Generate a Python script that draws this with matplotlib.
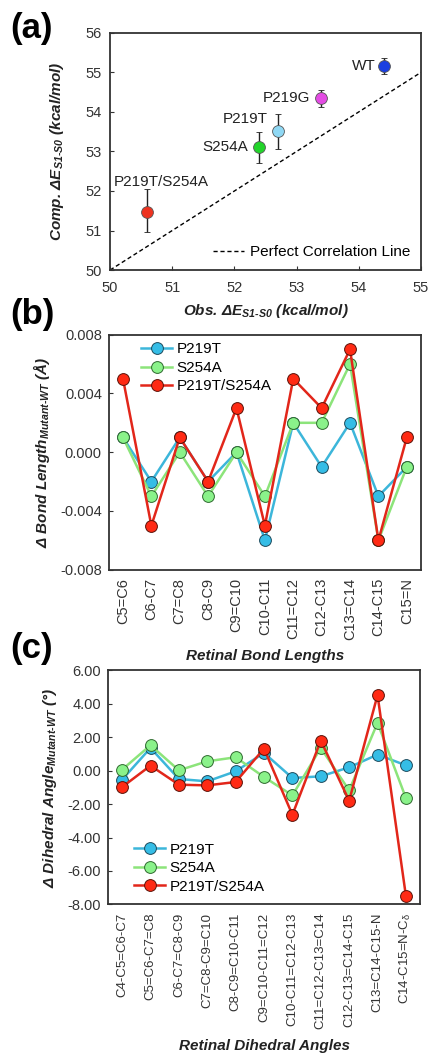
import matplotlib
matplotlib.use('Agg')
import matplotlib.pyplot as plt
import numpy as np

plt.rcParams['font.family'] = ['Liberation Sans', 'DejaVu Sans']
plt.rcParams['mathtext.fontset'] = 'custom'
plt.rcParams['mathtext.rm'] = 'Liberation Sans:italic:bold'
plt.rcParams['mathtext.it'] = 'Liberation Sans:italic:bold'
plt.rcParams['mathtext.bf'] = 'Liberation Sans:italic:bold'
plt.rcParams['mathtext.sf'] = 'Liberation Sans'

# ---- panel (a) data ----
mutants = ['WT', 'P219G', 'P219T', 'S254A', 'P219T/S254A']
obs_e = [54.4, 53.4, 52.7, 52.4, 50.6]
comp_e = [55.17, 54.34, 53.52, 53.11, 51.47]
err_lo = [0.20, 0.22, 0.45, 0.39, 0.52]
err_hi = [0.20, 0.22, 0.43, 0.38, 0.59]
mut_colors = ['#1a3fe0', '#e44be4', '#8fd8f4', '#22d42a', '#ee3320']
label_off = [(-8, 0), (-11, 0), (-10, 12), (-11, 0), (14, 30)]
label_ha = ['right', 'right', 'right', 'right', 'center']

# ---- panel (b) data ----
bonds = ['C5=C6', 'C6-C7', 'C7=C8', 'C8-C9', 'C9=C10', 'C10-C11',
         'C11=C12', 'C12-C13', 'C13=C14', 'C14-C15', 'C15=N']
bond_p219t = [0.001, -0.002, 0.001, -0.002, 0.000, -0.006, 0.002, -0.001, 0.002, -0.003, -0.001]
bond_s254a = [0.001, -0.003, 0.000, -0.003, 0.000, -0.003, 0.002, 0.002, 0.006, -0.006, -0.001]
bond_double = [0.005, -0.005, 0.001, -0.002, 0.003, -0.005, 0.005, 0.003, 0.007, -0.006, 0.001]

# ---- panel (c) data ----
dihedrals = ['C4-C5=C6-C7', 'C5=C6-C7=C8', 'C6-C7=C8-C9', 'C7=C8-C9=C10',
             'C8-C9=C10-C11', 'C9=C10-C11=C12', 'C10-C11=C12-C13',
             'C11=C12-C13=C14', 'C12-C13=C14-C15', 'C13=C14-C15-N',
             r'C14-C15=N-C$_{\mathsf{\delta}}$']
dih_p219t = [-0.54, 1.36, -0.50, -0.64, -0.04, 1.06, -0.44, -0.34, 0.20, 0.96, 0.32]
dih_s254a = [0.06, 1.52, 0.02, 0.56, 0.80, -0.38, -1.48, 1.36, -1.18, 2.86, -1.64]
dih_double = [-0.98, 0.30, -0.84, -0.88, -0.68, 1.32, -2.64, 1.80, -1.80, 4.52, -7.50]

series_names = ['P219T', 'S254A', 'P219T/S254A']
line_colors = ['#3cb6da', '#8ce47a', '#e2261a']
face_colors = ['#35bde6', '#8af28a', '#ff2a14']
edge_colors = ['#1d4a5c', '#2f6a2f', '#5a1208']

frame_col = '#333333'
lab_kw = dict(fontsize=11, fontweight='bold', style='italic', color='#222222')

fig = plt.figure(figsize=(4.3, 10.59), dpi=100)
ax1 = fig.add_axes([0.256, 0.745, 0.723, 0.224])
ax2 = fig.add_axes([0.253, 0.462, 0.726, 0.222])
ax3 = fig.add_axes([0.251, 0.146, 0.726, 0.221])


def style_frame(ax):
    for s in ax.spines.values():
        s.set_color(frame_col)
        s.set_linewidth(1.3)
    ax.tick_params(direction='in', length=3, width=0.8, colors=frame_col,
                   labelcolor='#333333', labelsize=10.5)


# (a)
line_x = [50, 55]
ax1.plot(line_x, line_x, color='black', linestyle='--', linewidth=1.0,
         dashes=(3, 2), label='Perfect Correlation Line')
for i in range(len(mutants)):
    ax1.errorbar(obs_e[i], comp_e[i], yerr=[[err_lo[i]], [err_hi[i]]],
                 fmt='o', color=mut_colors[i], markersize=8.5,
                 markeredgecolor='#555555', markeredgewidth=0.6,
                 ecolor='#222222', elinewidth=1.0, capsize=2.5, capthick=1.0)
    ax1.annotate(mutants[i], (obs_e[i], comp_e[i]), xytext=label_off[i],
                 textcoords='offset pixels', ha=label_ha[i], va='center',
                 fontsize=11, color='#222222')
ax1.set_xlim(50, 55)
ax1.set_ylim(50, 56)
ax1.set_xticks(range(50, 56))
ax1.set_yticks(range(50, 57))
style_frame(ax1)
ax1.tick_params(axis='x', pad=8)
ax1.tick_params(axis='y', pad=6)
ax1.set_xlabel('Obs. ΔE$_{S1‐S0}$ (kcal/mol)', labelpad=5, **lab_kw)
ax1.set_ylabel('Comp. ΔE$_{S1‐S0}$ (kcal/mol)', labelpad=14, **lab_kw)
ax1.legend(loc='lower right', frameon=False, fontsize=11, handlelength=2.0,
           handletextpad=0.4, borderaxespad=0.3)

# (b)
xb = np.arange(len(bonds))
for vals, name, lc, fc, ec in zip([bond_p219t, bond_s254a, bond_double], series_names,
                                  line_colors, face_colors, edge_colors):
    ax2.plot(xb, vals, '-o', color=lc, linewidth=1.8, markersize=8.5,
             markerfacecolor=fc, markeredgecolor=ec, markeredgewidth=0.7, label=name)
ax2.set_xlim(-0.5, 10.5)
ax2.set_ylim(-0.008, 0.008)
ax2.set_yticks([-0.008, -0.004, 0.0, 0.004, 0.008])
ax2.set_yticklabels(['-0.008', '-0.004', '0.000', '0.004', '0.008'])
ax2.set_xticks(xb)
ax2.set_xticklabels(bonds, rotation=90)
style_frame(ax2)
ax2.tick_params(axis='x', length=0, pad=6)
ax2.tick_params(axis='y', pad=5)
ax2.set_ylabel('Δ Bond Length$_{Mutant‐WT}$ (Å)', labelpad=6, **lab_kw)
ax2.set_xlabel('Retinal Bond Lengths', labelpad=6, **lab_kw)
ax2.legend(loc='upper left', frameon=False, fontsize=11, handlelength=2.0,
           handletextpad=0.3, labelspacing=0.3, borderaxespad=0.1,
           bbox_to_anchor=(0.08, 1.0))

# (c)
xc = np.arange(len(dihedrals))
for vals, name, lc, fc, ec in zip([dih_p219t, dih_s254a, dih_double], series_names,
                                  line_colors, face_colors, edge_colors):
    ax3.plot(xc, vals, '-o', color=lc, linewidth=1.8, markersize=8.5,
             markerfacecolor=fc, markeredgecolor=ec, markeredgewidth=0.7, label=name)
ax3.set_xlim(-0.5, 10.5)
ax3.set_ylim(-8, 6)
ax3.set_yticks(np.arange(-8, 7, 2))
ax3.set_yticklabels(['%.2f' % v for v in np.arange(-8, 7, 2)])
ax3.set_xticks(xc)
ax3.set_xticklabels(dihedrals, rotation=90)
style_frame(ax3)
ax3.tick_params(axis='x', length=0, pad=6, labelsize=9.5)
ax3.tick_params(axis='y', pad=5)
ax3.set_ylabel('Δ Dihedral Angle$_{Mutant‐WT}$ (°)', labelpad=6, **lab_kw)
ax3.set_xlabel('Retinal Dihedral Angles', **lab_kw)
ax3.xaxis.set_label_coords(0.5, -0.575)
ax3.legend(loc='lower left', frameon=False, fontsize=11, handlelength=2.0,
           handletextpad=0.3, labelspacing=0.3, borderaxespad=0.3,
           bbox_to_anchor=(0.05, 0.0))

# panel letters
for lbl, yy in zip(['(a)', '(b)', '(c)'], [0.973, 0.703, 0.388]):
    fig.text(0.025, yy, lbl, fontsize=25, fontweight='bold', va='center', ha='left')

fig.savefig('out.png', dpi=100)
